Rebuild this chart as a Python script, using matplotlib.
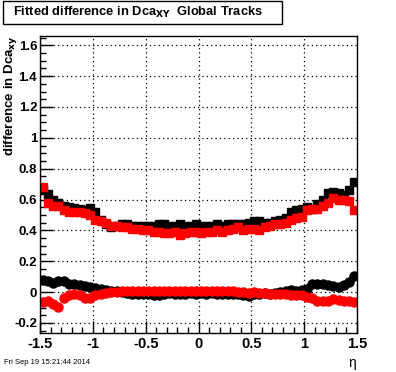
import numpy as np
import matplotlib
matplotlib.use("Agg")
import matplotlib.pyplot as plt
from matplotlib.patches import Rectangle
from matplotlib.ticker import MultipleLocator

plt.rcParams['font.family'] = ['Liberation Sans', 'DejaVu Sans']

# 60 bins in eta, width 0.05
eta_edges = np.linspace(-1.5, 1.5, 61)

# width (upper) - squares
black_width = [0.66, 0.635, 0.60, 0.575, 0.56, 0.55, 0.545, 0.54, 0.535, 0.545,
               0.52, 0.47, 0.44, 0.42, 0.43, 0.44, 0.44, 0.43, 0.43, 0.43,
               0.43, 0.43, 0.44, 0.44, 0.43, 0.43, 0.44, 0.43, 0.43, 0.44,
               0.43, 0.43, 0.43, 0.44, 0.43, 0.44, 0.44, 0.44,
               0.44, 0.45, 0.46, 0.46, 0.45, 0.45, 0.46, 0.47, 0.48, 0.52,
               0.53, 0.54, 0.55, 0.54, 0.57, 0.60, 0.64, 0.65, 0.64, 0.63, 0.66, 0.715]
red_width = [0.68, 0.58, 0.56, 0.555, 0.53, 0.52, 0.52, 0.52, 0.515, 0.50,
             0.47, 0.46, 0.45, 0.43, 0.43, 0.42, 0.42, 0.41, 0.41, 0.40,
             0.40, 0.39, 0.39, 0.38, 0.38, 0.39, 0.37, 0.38, 0.39, 0.39,
             0.38, 0.39, 0.39, 0.40, 0.39, 0.40, 0.41, 0.42,
             0.40, 0.41, 0.41, 0.40, 0.42, 0.43, 0.44, 0.44, 0.45, 0.47,
             0.48, 0.49, 0.53, 0.54, 0.54, 0.56, 0.58, 0.61, 0.60, 0.60, 0.59, 0.535]

# mean (lower) - circles
black_mean = [0.080, 0.070, 0.060, 0.075, 0.070, 0.055, 0.050, 0.045, 0.040, 0.035,
              0.025, 0.020, 0.015, 0.010, 0.005, 0.000, -0.005, -0.010, -0.010, -0.015,
              -0.015, -0.020, -0.020, -0.010, -0.005, -0.010, -0.015, -0.010, -0.005, -0.010,
              -0.005, -0.010, -0.005, -0.010, -0.015, -0.010, -0.015, -0.010, -0.020, -0.025,
              -0.015, -0.010, -0.005, -0.010, -0.005, 0.000, 0.005, 0.015, 0.010, 0.015,
              0.020, 0.050, 0.055, 0.050, 0.045, 0.040, 0.030, 0.045, 0.065, 0.105]
red_mean = [-0.065, -0.060, -0.075, -0.095, -0.035, -0.020, -0.015, -0.020, -0.035, -0.040,
            -0.020, -0.010, -0.005, 0.000, 0.000, 0.005, 0.005, 0.005, 0.010, 0.005,
            0.010, 0.010, 0.005, 0.010, 0.010, 0.005, 0.010, 0.010, 0.005, 0.010,
            0.005, 0.010, 0.005, 0.010, 0.005, 0.010, 0.005, 0.000, 0.000, -0.005,
            0.000, -0.005, -0.005, -0.010, -0.010, -0.015, -0.015, -0.020, -0.020, -0.020,
            -0.030, -0.040, -0.060, -0.060, -0.055, -0.045, -0.050, -0.055, -0.060, -0.065]

err_width = 0.012
err_mean = 0.006

eta = 0.5 * (eta_edges[:-1] + eta_edges[1:])

fig = plt.figure(figsize=(3.96, 3.72), dpi=100)
ax = fig.add_axes([40/396, 1-333/372, 317/396, 297/372])

ax.errorbar(eta, black_width, yerr=err_width, fmt='s', color='black', ms=6.2, lw=1, capsize=0)
ax.errorbar(eta, red_width, yerr=err_width, fmt='s', color='red', ms=6.2, lw=1, capsize=0)
ax.errorbar(eta, black_mean, yerr=err_mean, fmt='o', color='black', ms=6.5, lw=1, capsize=0)
ax.errorbar(eta, red_mean, yerr=err_mean, fmt='o', color='red', ms=6.5, lw=1, capsize=0)

ax.set_xlim(-1.5, 1.5)
ax.set_ylim(-0.265, 1.66)
ax.xaxis.set_major_locator(MultipleLocator(0.5))
ax.xaxis.set_minor_locator(MultipleLocator(0.1))
ax.yaxis.set_major_locator(MultipleLocator(0.2))
ax.yaxis.set_minor_locator(MultipleLocator(0.05))
ax.xaxis.set_major_formatter(plt.FuncFormatter(lambda v, p: '%g' % v if abs(v) > 1e-9 else '0'))
ax.yaxis.set_major_formatter(plt.FuncFormatter(lambda v, p: '%g' % v if abs(v) > 1e-9 else '0'))
ax.tick_params(which='both', direction='in', top=False, right=False)
ax.tick_params(which='major', length=9, width=1)
ax.tick_params(which='minor', length=4.5, width=1)
ax.tick_params(axis='x', labelsize=10.5, pad=3)
ax.tick_params(axis='y', labelsize=9.5, pad=2)
for lab in ax.get_xticklabels() + ax.get_yticklabels():
    lab.set_fontweight('bold')
ax.grid(True, which='major', color='black', linestyle=(0, (1, 2.5)), linewidth=0.9)
for s in ax.spines.values():
    s.set_linewidth(1)

# title box
fig.patches.append(Rectangle((3/396, 1-24/372), 279/396, 23/372, transform=fig.transFigure,
                             facecolor='white', edgecolor='black', lw=1))
fig.text(13/396, 1-12.5/372, r'Fitted difference in Dca$_{\mathbf{XY}}$  Global Tracks',
         fontsize=9.3, fontweight='bold', va='center', ha='left')

fig.text(10.5/396, 1-35/372, r'difference in Dca$_{\mathbf{xy}}$', rotation=90,
         fontsize=9.5, fontweight='bold', va='top', ha='center')
fig.text(352/396, 1-363/372, 'η', fontsize=10, ha='center', va='center')
fig.text(4/396, 1-363/372, 'Fri Sep 19 15:21:44 2014', fontsize=5.5, ha='left', va='center')

plt.savefig('out.png', dpi=100)
